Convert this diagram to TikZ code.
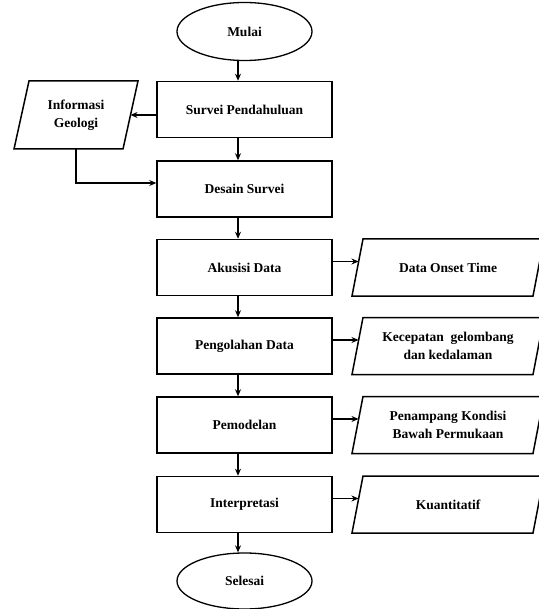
\documentclass[tikz,border=0pt]{standalone}
\usepackage{fontspec}
\setmainfont{Liberation Serif}
\usetikzlibrary{shapes.geometric,arrows.meta}
\newcommand{\ioframe}[2]{%
  \draw[line width=1.5pt, line join=miter]
    ([xshift=-#2/2]#1.south west) -- ([xshift=-#2/2]#1.south east)
    -- ([xshift=#2/2]#1.north east) -- ([xshift=#2/2]#1.north west) -- cycle;}
\begin{document}
\begin{tikzpicture}[x=1pt,y=-1pt,
  every node/.style={font=\fontsize{13.5}{18}\selectfont\bfseries, align=center},
  terminal/.style={ellipse, draw, line width=1.3pt, minimum width=135pt, minimum height=58pt, inner sep=0pt},
  process/.style={rectangle, draw, line width=1.5pt, minimum width=175pt, minimum height=56pt, inner sep=0pt},
  leftio/.style={rectangle, minimum width=109pt, minimum height=68pt, inner sep=0pt, outer sep=0pt},
  rightio/.style={rectangle, minimum width=181pt, minimum height=57pt, inner sep=0pt, outer sep=0pt},
  arr/.style={line width=1.2pt, -{Stealth[length=7pt,width=6pt]}}
]
\useasboundingbox (0,0) rectangle (538,609);

\node[terminal] (mulai) at (244.5,31.5) {Mulai};
\node[process] (survei) at (244.5,109.5) {Survei Pendahuluan};
\node[leftio] (info) at (76,115) {Informasi\\Geologi};
\node[process] (desain) at (244.5,189) {Desain Survei};
\node[process] (akuisisi) at (244.5,267.5) {Akusisi Data};
\node[process] (olah) at (244.5,346) {Pengolahan Data};
\node[process] (model) at (244.5,425) {Pemodelan};
\node[process] (interp) at (244.5,504.5) {Interpretasi};
\node[terminal, minimum height=56pt] (selesai) at (244.5,581) {Selesai};

\node[rightio] (onset) at (448,267.5) {Data Onset Time};
\node[rightio] (cepat) at (448,346) {Kecepatan\ \ gelombang\\dan kedalaman};
\node[rightio] (tampang) at (448,425) {Penampang Kondisi\\Bawah Permukaan};
\node[rightio] (kuant) at (448,504.5) {Kuantitatif};

\ioframe{info}{15pt}
\ioframe{onset}{11pt}
\ioframe{cepat}{11pt}
\ioframe{tampang}{11pt}
\ioframe{kuant}{11pt}

\draw[arr] ([xshift=-6.5pt]mulai.south) -- ([xshift=-6.5pt]survei.north);
\draw[arr] ([xshift=-6.5pt]survei.south) -- ([xshift=-6.5pt]desain.north);
\draw[arr] ([xshift=-6.5pt]desain.south) -- ([xshift=-6.5pt]akuisisi.north);
\draw[arr] ([xshift=-6.5pt]akuisisi.south) -- ([xshift=-6.5pt]olah.north);
\draw[arr] ([xshift=-6.5pt]olah.south) -- ([xshift=-6.5pt]model.north);
\draw[arr] ([xshift=-6.5pt]model.south) -- ([xshift=-6.5pt]interp.north);
\draw[arr] ([xshift=-6.5pt]interp.south) -- ([xshift=-6.5pt]selesai.north);

\draw[arr] (survei.west |- info.east) -- (info.east);
\draw[arr] (info.south) |- ([yshift=6pt]desain.west);

\draw[arr] ([yshift=6pt]akuisisi.east) -- ([yshift=6pt,xshift=1pt]onset.west);
\draw[arr] ([yshift=6pt]olah.east) -- ([yshift=6pt,xshift=1pt]cepat.west);
\draw[arr] ([yshift=6pt]model.east) -- ([yshift=6pt,xshift=1pt]tampang.west);
\draw[arr] ([yshift=6pt]interp.east) -- ([yshift=6pt,xshift=1pt]kuant.west);
\end{tikzpicture}
\end{document}
